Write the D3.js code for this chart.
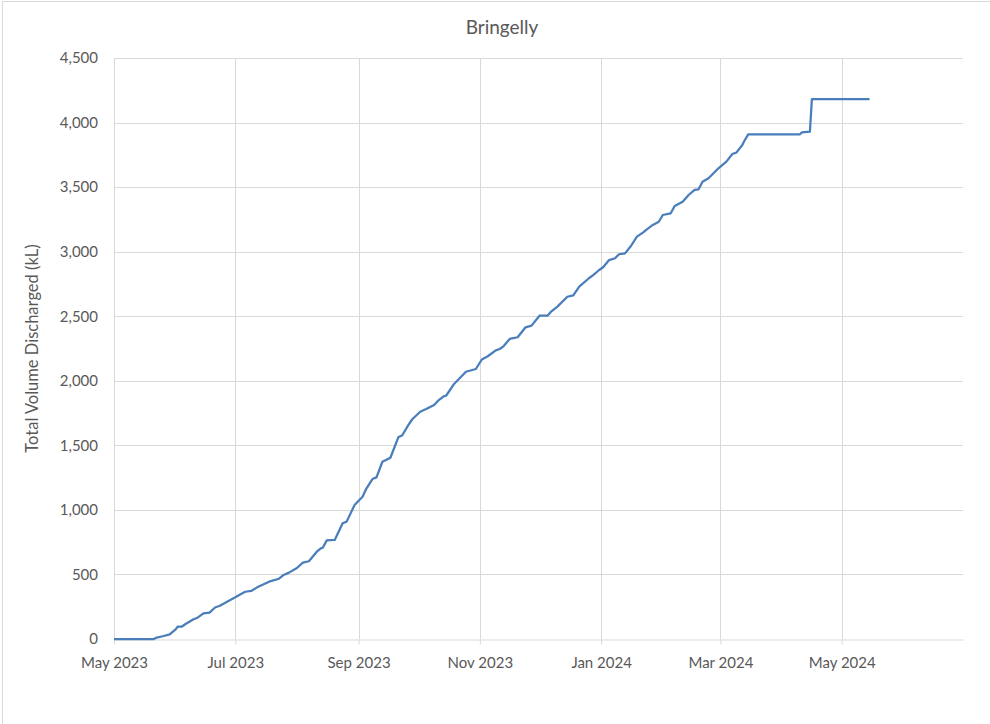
<!DOCTYPE html>
<html>
<head>
<meta charset="utf-8">
<script src="https://cdn.jsdelivr.net/npm/d3@7"></script>
<style>
  html, body { margin: 0; padding: 0; background: #fff; }
  svg { display: block; }
  text { font-family: Lato, "Open Sans", "Liberation Sans", sans-serif; fill: #595959; }
</style>
</head>
<body>
<svg id="chart" width="990" height="724"></svg>
<script>
// Cumulative discharge readings for the Bringelly site
const readingDates = [
  "2023-05-01","2023-05-21","2023-05-22","2023-05-26","2023-05-29","2023-06-01","2023-06-02","2023-06-04",
  "2023-06-06","2023-06-10","2023-06-12","2023-06-15","2023-06-18","2023-06-21","2023-06-23","2023-07-01",
  "2023-07-03","2023-07-06","2023-07-09","2023-07-12","2023-07-18","2023-07-23","2023-07-25","2023-07-28",
  "2023-08-01","2023-08-04","2023-08-07","2023-08-11","2023-08-13","2023-08-14","2023-08-16","2023-08-20",
  "2023-08-24","2023-08-26","2023-08-30","2023-09-03","2023-09-05","2023-09-08","2023-09-10","2023-09-13",
  "2023-09-17","2023-09-21","2023-09-23","2023-09-26","2023-09-28","2023-10-02","2023-10-05","2023-10-09",
  "2023-10-11","2023-10-14","2023-10-15","2023-10-19","2023-10-21","2023-10-25","2023-10-30","2023-11-02",
  "2023-11-05","2023-11-09","2023-11-11","2023-11-13","2023-11-16","2023-11-20","2023-11-24","2023-11-27",
  "2023-12-01","2023-12-05","2023-12-07","2023-12-10","2023-12-15","2023-12-18","2023-12-21","2023-12-26",
  "2023-12-28","2023-12-31","2024-01-02","2024-01-05","2024-01-08","2024-01-10","2024-01-13","2024-01-16",
  "2024-01-19","2024-01-22","2024-01-24","2024-01-27","2024-01-30","2024-02-01","2024-02-05","2024-02-07",
  "2024-02-11","2024-02-14","2024-02-17","2024-02-19","2024-02-21","2024-02-24","2024-02-26","2024-02-29",
  "2024-03-04","2024-03-07","2024-03-09","2024-03-12","2024-03-13","2024-03-15","2024-04-10","2024-04-11",
  "2024-04-15","2024-04-16","2024-05-15"
];
const totalVolumeKL = [
  0, 0, 8, 23, 36, 75, 95, 95,
  116, 153, 165, 199, 204, 246, 256, 323,
  341, 366, 372, 400, 444, 467, 493, 514,
  550, 591, 602, 676, 702, 707, 764, 767,
  896, 909, 1038, 1102, 1167, 1239, 1252, 1373,
  1404, 1562, 1578, 1657, 1702, 1760, 1781, 1812,
  1846, 1882, 1884, 1975, 2006, 2070, 2091, 2165,
  2190, 2236, 2246, 2269, 2324, 2337, 2414, 2427,
  2504, 2504, 2538, 2574, 2651, 2662, 2729, 2796,
  2819, 2858, 2879, 2935, 2949, 2980, 2987, 3044,
  3116, 3147, 3173, 3207, 3232, 3284, 3297, 3354,
  3387, 3439, 3478, 3483, 3542, 3568, 3599, 3646,
  3697, 3756, 3767, 3826, 3857, 3909, 3909, 3924,
  3929, 4182, 4182
];
const xTickLabels = ["May 2023","Jul 2023","Sep 2023","Nov 2023","Jan 2024","Mar 2024","May 2024"];
const yTickValues = [0, 500, 1000, 1500, 2000, 2500, 3000, 3500, 4000, 4500];

const parse = d3.utcParse("%Y-%m-%d");
const series = readingDates.map((d, i) => ({ date: parse(d), value: totalVolumeKL[i] }));

const svg = d3.select("#chart");
const margin = { left: 114, right: 27, top: 58, bottom: 85 };
const W = 990, H = 724;

// outer chart frame
svg.append("rect")
  .attr("x", 2.5).attr("y", 1.5).attr("width", 1000).attr("height", 740)
  .attr("fill", "#fff").attr("stroke", "#d9d9d9");

const x = d3.scaleUtc()
  .domain([Date.UTC(2023, 4, 1), Date.UTC(2024, 6, 1)])
  .range([margin.left, W - margin.right]);
const y = d3.scaleLinear()
  .domain([0, 4500])
  .range([H - margin.bottom, margin.top]);

const xTicks = d3.utcMonth.every(2).range(new Date(Date.UTC(2023, 4, 1)), new Date(Date.UTC(2024, 5, 1)));

// horizontal gridlines
svg.append("g")
  .selectAll("line")
  .data(yTickValues.filter(v => v > 0))
  .join("line")
  .attr("x1", margin.left).attr("x2", W - margin.right)
  .attr("y1", d => Math.round(y(d)) + 0.5).attr("y2", d => Math.round(y(d)) + 0.5)
  .attr("stroke", "#d9d9d9").attr("stroke-width", 1);

// vertical gridlines
svg.append("g")
  .selectAll("line")
  .data(xTicks)
  .join("line")
  .attr("x1", d => Math.round(x(d)) + 0.5).attr("x2", d => Math.round(x(d)) + 0.5)
  .attr("y1", margin.top).attr("y2", H - margin.bottom)
  .attr("stroke", "#d9d9d9").attr("stroke-width", 1);

// x axis with outward tick marks
const xAxis = d3.axisBottom(x)
  .tickValues(xTicks)
  .tickSize(5)
  .tickSizeOuter(0)
  .tickFormat((d, i) => xTickLabels[i]);
const gx = svg.append("g")
  .attr("transform", `translate(0,${Math.round(y(0)) + 0.5})`)
  .call(xAxis);
gx.select(".domain").attr("stroke", "#d9d9d9");
gx.selectAll(".tick line").attr("stroke", "#d9d9d9");
gx.selectAll(".tick text")
  .attr("dy", 0).attr("y", 28)
  .style("font-size", "15px").attr("fill", "#595959");

// y axis labels
const yAxis = d3.axisLeft(y)
  .tickValues(yTickValues)
  .tickSize(0)
  .tickPadding(16)
  .tickFormat(d3.format(","));
const gy = svg.append("g")
  .attr("transform", `translate(${margin.left},0)`)
  .call(yAxis);
gy.select(".domain").remove();
gy.selectAll(".tick text")
  .style("font-size", "15px").attr("fill", "#595959");

// data line
const line = d3.line()
  .x(d => x(d.date))
  .y(d => y(d.value));
svg.append("path")
  .datum(series)
  .attr("d", line)
  .attr("fill", "none")
  .attr("stroke", "#4a7ebb")
  .attr("stroke-width", 2.25)
  .attr("stroke-linejoin", "round");

// title
svg.append("text")
  .attr("x", 502).attr("y", 34)
  .attr("text-anchor", "middle")
  .style("font-size", "19px")
  .text("Bringelly");

// y axis title
svg.append("text")
  .attr("transform", `translate(38,${(margin.top + H - margin.bottom) / 2}) rotate(-90)`)
  .attr("text-anchor", "middle")
  .style("font-size", "16.5px")
  .text("Total Volume Discharged (kL)");
</script>
</body>
</html>
